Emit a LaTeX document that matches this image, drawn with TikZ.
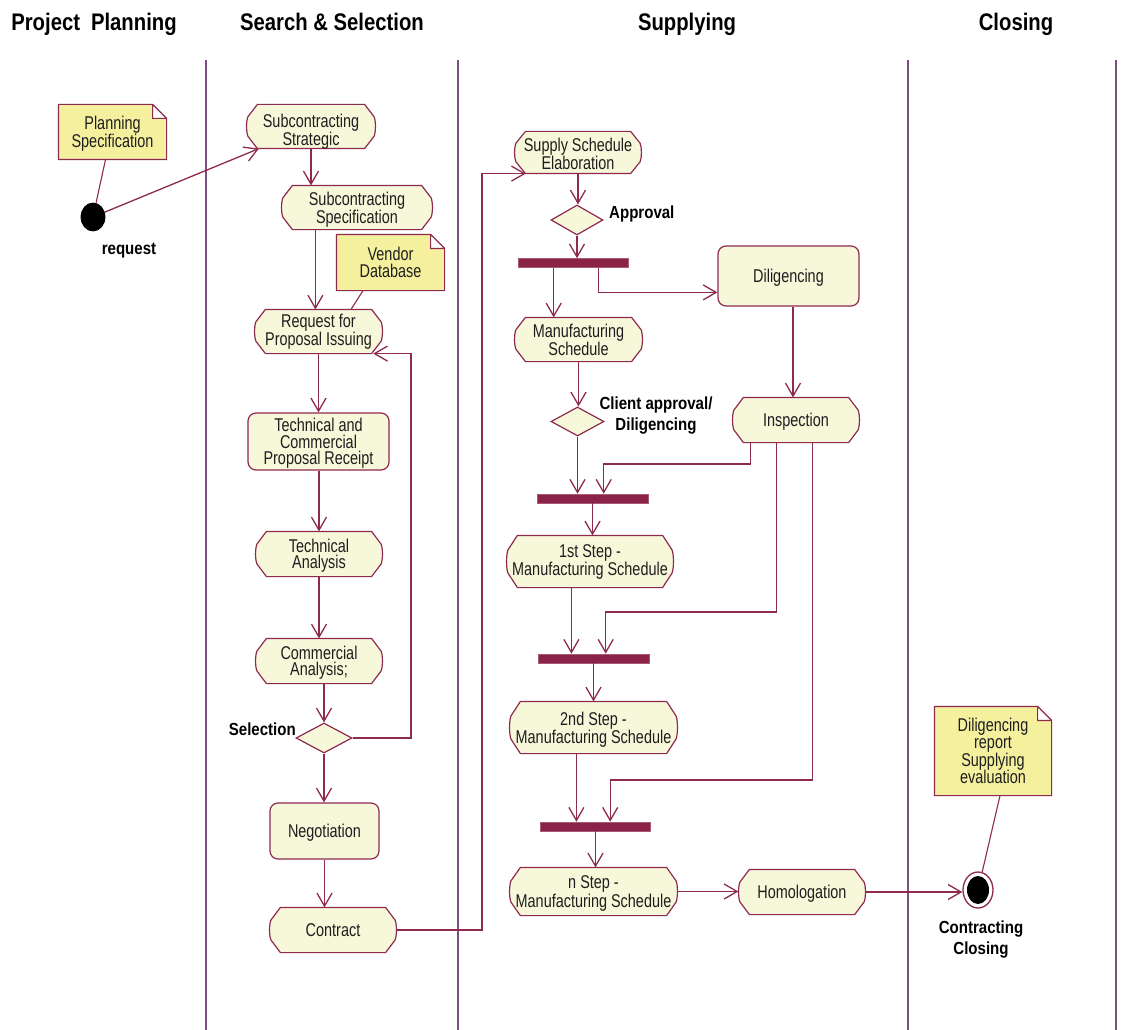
\documentclass[tikz,border=0pt]{standalone}
\usepackage{fontspec}
\setmainfont[FakeStretch=0.78]{Liberation Sans}
\newfontfamily\hdrfont[FakeStretch=0.845]{Liberation Sans}
\newfontfamily\lblfont[FakeStretch=0.86]{Liberation Sans}
\usetikzlibrary{arrows.meta,shapes.geometric,calc}

\definecolor{lineC}{HTML}{8E2A50}
\definecolor{barC}{HTML}{8A2347}
\definecolor{laneC}{HTML}{7A5080}
\definecolor{actC}{HTML}{F7F7DA}
\definecolor{noteC}{HTML}{F5F09E}
\definecolor{txtC}{HTML}{1E1E1E}

\makeatletter
% corners of the text box, as plain numbers (pt)
\def\shp@grab{%
  \southwest \edef\shp@l{\the\pgf@x}\edef\shp@b{\the\pgf@y}%
  \northeast \edef\shp@r{\the\pgf@x}\edef\shp@t{\the\pgf@y}%
  \pgfmathsetmacro\shp@l{\shp@l}\pgfmathsetmacro\shp@r{\shp@r}%
  \pgfmathsetmacro\shp@b{\shp@b}\pgfmathsetmacro\shp@t{\shp@t}%
}
% activity state: flat top and bottom, cut corners, slightly bulging sides
\pgfdeclareshape{activity}{
  \inheritsavedanchors[from=rectangle]
  \inheritanchorborder[from=rectangle]
  \inheritanchor[from=rectangle]{center}
  \inheritanchor[from=rectangle]{north}
  \inheritanchor[from=rectangle]{south}
  \inheritanchor[from=rectangle]{east}
  \inheritanchor[from=rectangle]{west}
  \inheritanchor[from=rectangle]{north east}
  \inheritanchor[from=rectangle]{north west}
  \inheritanchor[from=rectangle]{south east}
  \inheritanchor[from=rectangle]{south west}
  \inheritanchor[from=rectangle]{mid}
  \inheritanchor[from=rectangle]{base}
  \backgroundpath{%
    \shp@grab
    \pgfmathsetmacro\shp@m{(\shp@t+\shp@b)/2}%
    \pgfmathsetmacro\shp@d{0.28*(\shp@t-\shp@b)}%
    \pgfmathsetmacro\shp@e{0.12*(\shp@t-\shp@b)}%
    \pgfpathmoveto{\pgfpoint{\shp@l+11}{\shp@t}}%
    \pgfpathlineto{\pgfpoint{\shp@r-11}{\shp@t}}%
    \pgfpathlineto{\pgfpoint{\shp@r-1.5}{\shp@t-\shp@d}}%
    \pgfpathcurveto{\pgfpoint{\shp@r+0.3}{\shp@m+\shp@e}}{\pgfpoint{\shp@r+0.3}{\shp@m-\shp@e}}{\pgfpoint{\shp@r-1.5}{\shp@b+\shp@d}}%
    \pgfpathlineto{\pgfpoint{\shp@r-11}{\shp@b}}%
    \pgfpathlineto{\pgfpoint{\shp@l+11}{\shp@b}}%
    \pgfpathlineto{\pgfpoint{\shp@l+1.5}{\shp@b+\shp@d}}%
    \pgfpathcurveto{\pgfpoint{\shp@l-0.3}{\shp@m-\shp@e}}{\pgfpoint{\shp@l-0.3}{\shp@m+\shp@e}}{\pgfpoint{\shp@l+1.5}{\shp@t-\shp@d}}%
    \pgfpathclose
  }
}
% note with a folded top right corner
\pgfdeclareshape{umlnote}{
  \inheritsavedanchors[from=rectangle]
  \inheritanchorborder[from=rectangle]
  \inheritanchor[from=rectangle]{center}
  \inheritanchor[from=rectangle]{north}
  \inheritanchor[from=rectangle]{south}
  \inheritanchor[from=rectangle]{east}
  \inheritanchor[from=rectangle]{west}
  \inheritanchor[from=rectangle]{north east}
  \inheritanchor[from=rectangle]{north west}
  \inheritanchor[from=rectangle]{south east}
  \inheritanchor[from=rectangle]{south west}
  \inheritanchor[from=rectangle]{mid}
  \inheritanchor[from=rectangle]{base}
  \backgroundpath{%
    \shp@grab
    \pgfpathmoveto{\pgfpoint{\shp@l}{\shp@b}}%
    \pgfpathlineto{\pgfpoint{\shp@l}{\shp@t}}%
    \pgfpathlineto{\pgfpoint{\shp@r-14}{\shp@t}}%
    \pgfpathlineto{\pgfpoint{\shp@r}{\shp@t-14}}%
    \pgfpathlineto{\pgfpoint{\shp@r}{\shp@b}}%
    \pgfpathclose
    \pgfpathmoveto{\pgfpoint{\shp@r-14}{\shp@t}}%
    \pgfpathlineto{\pgfpoint{\shp@r-14}{\shp@t-14}}%
    \pgfpathlineto{\pgfpoint{\shp@r}{\shp@t-14}}%
  }
}
\makeatother

\tikzset{
  flow/.style={draw=lineC, line width=1.3pt, -{Straight Barb[length=13pt,width=15pt]}},
  link/.style={draw=lineC, line width=1.1pt},
  lane/.style={draw=laneC, line width=1.2pt},
  actbox/.style={shape=activity, draw=lineC, fill=actC, line width=1.2pt, inner sep=0pt,
    align=center, text=txtC, text depth=0pt, font=\fontsize{18.5}{16.5}\selectfont},
  roundbox/.style={actbox, shape=rectangle, rounded corners=8pt},
  notebox/.style={shape=umlnote, draw=lineC, fill=noteC, line width=1.2pt, inner sep=0pt,
    align=center, text=txtC, text depth=0pt, font=\fontsize{18.5}{17.5}\selectfont},
  decision/.style={diamond, draw=lineC, fill=actC, line width=1.2pt, inner sep=0pt},
  syncbar/.style={rectangle, fill=barC, draw=barC!75!white, line width=0.6pt, inner sep=0pt,
    minimum width=110pt, minimum height=9pt},
  lbl/.style={font=\lblfont\fontsize{17.5}{21}\selectfont\bfseries, text=black, align=center,
    text depth=0pt, inner sep=0pt},
  hdr/.style={font=\hdrfont\fontsize{24}{28}\selectfont\bfseries, text=black, text depth=0pt, inner sep=0pt},
}

\begin{document}
\begin{tikzpicture}[x=1pt,y=1pt]
\useasboundingbox (0,0) rectangle (1122,-1030);

% swimlane headers and separators
\node[hdr] (hPlan) at (94,-22) {Project\hspace{11pt}Planning};
\node[hdr] (hSel) at (332,-22) {Search \& Selection};
\node[hdr] (hSup) at (687,-22) {Supplying};
\node[hdr] (hClo) at (1016,-22) {Closing};
\foreach \lx in {206,458,908,1116} \draw[lane] (\lx,-60) -- (\lx,-1030);

% notes
\node[notebox, minimum width=107pt, minimum height=54pt] (nPlan) at (112.5,-132) {Planning\\Specification};
\node[notebox, minimum width=107pt, minimum height=55pt] (nVend) at (390.5,-262.5) {Vendor\\Database};
\node[notebox, minimum width=116pt, minimum height=88pt] (nDil) at (993,-751) {Diligencing\\report\\Supplying\\evaluation};

% start and end states
\node[ellipse, fill=black, draw=black, line width=0.8pt, minimum width=24pt, minimum height=28pt, inner sep=0pt] (start) at (93,-217) {};
\node[lbl] (lReq) at (129,-249) {request};
\node[ellipse, fill=white, draw=lineC, line width=1.3pt, minimum width=30pt, minimum height=36pt, inner sep=0pt] (endc) at (978,-890) {};
\node[ellipse, fill=black, minimum width=22pt, minimum height=28pt, inner sep=0pt] (endin) at (endc.center) {};
\node[lbl] (lEnd) at (981,-938) {Contracting\\Closing};

% search & selection lane
\node[actbox, minimum width=128pt, minimum height=43pt, text height=38pt] (sStrat) at (311,-126.5) {Subcontracting\\Strategic};
\node[actbox, minimum width=150pt, minimum height=43pt] (sSpec) at (357,-207.5) {Subcontracting\\Specification};
\node[actbox, minimum width=127pt, minimum height=43pt, text depth=3pt] (sReq) at (318.5,-331.5) {Request for\\Proposal Issuing};
\node[roundbox, minimum width=141pt, minimum height=57pt] (tcRec) at (318.5,-441.5) {Technical and\\Commercial\\Proposal Receipt};
\node[actbox, minimum width=126pt, minimum height=44pt] (techA) at (319,-554) {Technical\\Analysis};
\node[actbox, minimum width=126pt, minimum height=44pt] (comA) at (319,-661) {Commercial\\Analysis;};
\node[decision, minimum width=56pt, minimum height=30pt] (sel) at (324,-738) {};
\node[lbl, anchor=east] (lSel) at (296,-729) {Selection};
\node[roundbox, minimum width=109pt, minimum height=56pt] (nego) at (324.5,-831) {Negotiation};
\node[actbox, minimum width=126pt, minimum height=44pt] (contr) at (333,-930) {Contract};

% supplying lane
\node[actbox, minimum width=126pt, minimum height=41pt, text height=35pt] (supp) at (578,-152.5) {Supply Schedule\\Elaboration};
\node[decision, minimum width=52pt, minimum height=30pt] (appr) at (577,-220) {};
\node[lbl, anchor=west] (lAppr) at (609,-212) {Approval};
\node[syncbar] (bar1) at (573,-263) {};
\node[roundbox, minimum width=141pt, minimum height=60pt] (dil) at (788.5,-276) {Diligencing};
\node[actbox, minimum width=127pt, minimum height=43pt] (manSch) at (578.5,-339.5) {Manufacturing\\Schedule};
\node[decision, minimum width=53pt, minimum height=29pt] (cliApp) at (577.5,-421.5) {};
\node[lbl] (lCli) at (656,-413.5) {Client approval/\\Diligencing};
\node[actbox, minimum width=126pt, minimum height=44pt] (insp) at (796,-420) {Inspection};
\node[syncbar, minimum width=111pt] (bar2) at (592.5,-498.5) {};
\node[actbox, minimum width=166pt, minimum height=51pt, text depth=3pt] (step1) at (590,-561.5) {1st Step -\\Manufacturing Schedule};
\node[syncbar, minimum width=111pt] (bar3) at (593.5,-658.5) {};
\node[actbox, minimum width=167pt, minimum height=51pt] (step2) at (593.5,-727.5) {2nd Step -\\Manufacturing Schedule};
\node[syncbar] (bar4) at (595.5,-826.5) {};
\node[actbox, minimum width=167pt, minimum height=47pt] (stepN) at (593.5,-891.5) {n Step -\\Manufacturing Schedule};
\node[actbox, minimum width=126pt, minimum height=44pt] (homol) at (802,-892) {Homologation};

% note attachments
\draw[link] ($(nPlan.south)+(-7,0)$) -- (start);
\draw[link] ($(nVend.south)+(-27.5,0)$) -- ($(sReq.north)+(32.5,0)$);
\draw[link] ($(nDil.south)+(7,0)$) -- (endc);

% control flow: search & selection
\draw[flow] (start) -- (sStrat.203);
\draw[flow] (sStrat.south) -- (sStrat.south |- sSpec.north);
\coordinate (specTap) at ($(sSpec.south west)+(34,0)$);
\draw[flow] (specTap) -- (specTap |- sReq.north);
\draw[flow] (sReq.south) -- (sReq.south |- tcRec.north);
\draw[flow] (techA.north |- tcRec.south) -- (techA.north);
\draw[flow] (techA.south) -- (comA.north);
\draw[flow] (sel.north |- comA.south) -- (sel.north);
\draw[flow] (sel.south) -- (sel.south |- nego.north);
\coordinate (selLoop) at (411,-738);
\draw[flow] (sel.east) -- (selLoop) |- (sReq.-22.7);
\draw[flow] (nego.south) -- (nego.south |- contr.north);
\coordinate (contrTurn) at (482,-930);
\draw[flow] (contr.east) -- (contrTurn) |- (supp.202.3);

% control flow: supplying
\draw[flow] (supp.south) -- (supp.south |- appr.north);
\draw[flow] (appr.south) -- (appr.south |- bar1.north);
\coordinate (b1L) at ($(bar1.south west)+(36,0)$);
\coordinate (b1R) at ($(bar1.south west)+(81,0)$);
\draw[flow] (b1L) -- (b1L |- manSch.north);
\draw[flow] (b1R) |- (dil.193.6);
\coordinate (dTap) at ($(dil.south)+(4.5,0)$);
\draw[flow] (dTap) -- (dTap |- insp.north);
\draw[flow] (manSch.south) -- (manSch.south |- cliApp.north);
\draw[flow] (cliApp.south) -- (cliApp.south |- bar2.north);

\coordinate (iA) at ($(insp.south west)+(18,0)$);
\coordinate (iB) at ($(insp.south west)+(44,0)$);
\coordinate (iC) at ($(insp.south west)+(80,0)$);
\coordinate (b2in) at ($(bar2.north west)+(67,0)$);
\coordinate (b3in) at ($(bar3.north west)+(68,0)$);
\coordinate (b4in) at ($(bar4.north west)+(70,0)$);
\draw[flow] (iA) -- (iA |- 0,-464) -| (b2in);
\draw[flow] (iB) -- (iB |- 0,-612) -| (b3in);
\draw[flow] (iC) -- (iC |- 0,-780) -| (b4in);

\draw[flow] (bar2.south) -- (bar2.south |- step1.north);
\coordinate (s1Tap) at ($(step1.south west)+(65,0)$);
\draw[flow] (s1Tap) -- (s1Tap |- bar3.north);
\draw[flow] (bar3.south) -- (bar3.south |- step2.north);
\coordinate (s2Tap) at ($(step2.south west)+(67,0)$);
\draw[flow] (s2Tap) -- (s2Tap |- bar4.north);
\draw[flow] (bar4.south) -- (bar4.south |- stepN.north);
\draw[flow] (stepN.east) -- (stepN.east -| homol.west);
\draw[flow] (homol.east) -- (homol.east -| endc.west);
\end{tikzpicture}
\end{document}
